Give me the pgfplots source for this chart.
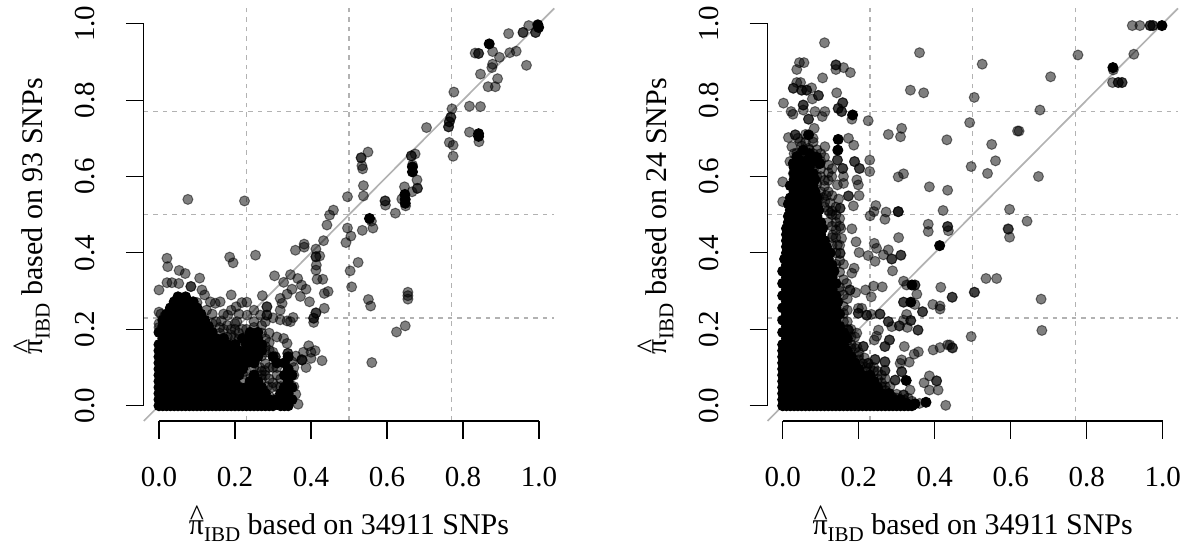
\documentclass[border=0pt]{standalone}
\usepackage{fontspec}
\usepackage{pgfplots}
\pgfplotsset{compat=1.18}
\setmainfont{Liberation Serif}
\newcommand\fs{\fontsize{29}{31}\selectfont}
\newcommand\lf{\fontsize{30}{32}\selectfont}
\newcommand\pih{\makebox[0pt][l]{\raisebox{.3em}{\hspace{.03em}\textasciicircum}}π\raisebox{-.22em}{\fontsize{21}{21}\selectfont IBD}}
\definecolor{gridc}{gray}{0.70}
\definecolor{diagc}{gray}{0.70}
\pgfplotsset{
  rplot/.style={
    scale only axis, width=410.4pt, height=412.6pt,
    xmin=-0.04, xmax=1.04, ymin=-0.04, ymax=1.04,
    clip=false,
    axis line style={draw=none},
    xtick={0,0.2,0.4,0.6,0.8,1}, ytick={0,0.2,0.4,0.6,0.8,1},
    xticklabels={0.0,0.2,0.4,0.6,0.8,1.0}, yticklabels={0.0,0.2,0.4,0.6,0.8,1.0},
    tick align=outside, major tick length=18pt,
    tick style={black,line width=1.1pt},
    xtick pos=bottom, ytick pos=left,
    tick label style={font=\fs},
    xticklabel style={yshift=-25pt},
    yticklabel style={rotate=90,anchor=south,yshift=27pt},
    /pgf/number format/assume math mode=true,
    every axis x label/.style={at={(axis description cs:0.5,0)},anchor=base,yshift=-114pt,font=\lf},
    every axis y label/.style={at={(axis description cs:0,0.5)},anchor=base,rotate=90,yshift=100.8pt,xshift=-1.5pt,font=\lf},
  },
  gl/.style={gridc,line width=1.5pt,dash pattern=on 4.5pt off 5pt,forget plot},
  al/.style={only marks,mark=*,mark size=5pt,forget plot,mark options={solid,fill=black,draw=black,fill opacity=0.5,draw opacity=0.5,line width=1pt}},
  co/.style={only marks,mark=*,mark size=5pt,forget plot,mark options={solid,fill=black,draw=black,fill opacity=1,draw opacity=1,line width=1pt}},
  dg/.style={diagc,line width=1.7pt,forget plot},
}
\begin{document}
\begin{tikzpicture}[x=1pt,y=1pt]
\path[use as bounding box] (0,0) rectangle (1186,548);
%----------------------------------------- left
\begin{axis}[rplot,at={(143.8pt,127pt)},anchor=south west,
  xlabel={\lf\pih{} based on 34911 SNPs},ylabel={\lf\pih{} based on 93 SNPs}]
\addplot[gl] coordinates {(0.23,-0.04)(0.23,1.04)};
\addplot[gl] coordinates {(0.5,-0.04)(0.5,1.04)};
\addplot[gl] coordinates {(0.77,-0.04)(0.77,1.04)};
\addplot[gl] coordinates {(-0.04,0.23)(1.04,0.23)};
\addplot[gl] coordinates {(-0.04,0.5)(1.04,0.5)};
\addplot[gl] coordinates {(-0.04,0.77)(1.04,0.77)};
% dense core
\addplot[co] coordinates {
(0,0)(.01,0)(.02,0)(.03,0)(.04,0)(.05,0)(.06,0)(.07,0)(.08,0)(.09,0)(.10,0)(.11,0)(.12,0)(.13,0)(.14,0)(.15,0)(.16,0)(.17,0)(.18,0)(.19,0)(.20,0)(.21,0)(.22,0)(.23,0)(.24,0)(.25,0)(.26,0)(.27,0)(.28,0)(.29,0)(.30,0)(.32,0)(.33,0)(.34,0)
(0,.016)(.01,.016)(.03,.016)(.05,.016)(.07,.016)(.09,.016)(.11,.016)(.13,.016)(.15,.016)(.17,.016)(.19,.016)(.21,.016)(.23,.016)(.25,.016)(.27,.016)(.29,.016)(.31,.016)(.33,.016)(.35,.016)
(0,.032)(.02,.032)(.04,.032)(.06,.032)(.08,.032)(.10,.032)(.12,.032)(.14,.032)(.16,.032)(.18,.032)(.20,.032)(.22,.032)(.24,.032)(.26,.032)(.28,.032)(.32,.032)(.34,.032)
(0,.048)(.01,.048)(.03,.048)(.05,.048)(.07,.048)(.09,.048)(.11,.048)(.13,.048)(.15,.048)(.17,.048)(.19,.048)(.21,.048)(.23,.048)(.25,.048)(.27,.048)(.33,.048)(.35,.048)
(0,.064)(.02,.064)(.04,.064)(.06,.064)(.08,.064)(.10,.064)(.12,.064)(.14,.064)(.16,.064)(.18,.064)(.20,.064)(.24,.064)(.26,.064)(.34,.064)
(0,.08)(.01,.08)(.03,.08)(.05,.08)(.07,.08)(.09,.08)(.11,.08)(.13,.08)(.15,.08)(.17,.08)(.19,.08)(.21,.08)(.25,.08)(.33,.08)(.35,.08)
(0,.096)(.02,.096)(.04,.096)(.06,.096)(.08,.096)(.10,.096)(.12,.096)(.14,.096)(.16,.096)(.18,.096)(.20,.096)(.22,.096)(.34,.096)
(0,.112)(.01,.112)(.03,.112)(.05,.112)(.07,.112)(.09,.112)(.11,.112)(.13,.112)(.15,.112)(.17,.112)(.19,.112)(.21,.112)(.23,.112)(.25,.112)(.31,.112)(.33,.112)
(0,.128)(.02,.128)(.04,.128)(.06,.128)(.08,.128)(.10,.128)(.12,.128)(.14,.128)(.16,.128)(.18,.128)(.20,.128)(.22,.128)(.24,.128)(.26,.128)(.30,.128)(.34,.128)
(0,.144)(.01,.144)(.03,.144)(.05,.144)(.07,.144)(.09,.144)(.11,.144)(.13,.144)(.15,.144)(.17,.144)(.19,.144)(.21,.144)(.23,.144)(.25,.144)(.27,.144)
(0,.16)(.02,.16)(.04,.16)(.06,.16)(.08,.16)(.10,.16)(.12,.16)(.14,.16)(.16,.16)(.18,.16)(.20,.16)(.23,.16)(.25,.16)(.27,.16)
(.01,.176)(.03,.176)(.05,.176)(.07,.176)(.09,.176)(.11,.176)(.13,.176)(.15,.176)(.17,.176)(.22,.176)(.24,.176)(.26,.176)
(0,.192)(.02,.192)(.04,.192)(.06,.192)(.08,.192)(.10,.192)(.12,.192)(.14,.192)(.24,.192)(.26,.192)
(.01,.208)(.03,.208)(.05,.208)(.07,.208)(.09,.208)(.11,.208)(.13,.208)
(.01,.224)(.02,.224)(.04,.224)(.06,.224)(.08,.224)(.10,.224)(.12,.224)
(.02,.24)(.03,.24)(.05,.24)(.07,.24)(.09,.24)(.11,.24)
(.03,.256)(.04,.256)(.06,.256)(.08,.256)(.10,.256)
(.04,.272)(.05,.272)(.07,.272)(.09,.272)
(.05,.285)(.07,.285)
(.997,.997)(.869,.947)(.841,.712)(.841,.705)(.667,.625)(.667,.612)(.647,.553)(.648,.540)(.648,.530)(.554,.490)(.999,.990)
};
% isolated points
\addplot[al] coordinates {
(.973,.995)(.920,.974)(.958,.977)(.958,.977)(.991,.977)(.991,.977)(.832,.923)(.841,.922)(.841,.922)(.878,.927)(.896,.912)(.923,.924)(.940,.928)(.967,.891)(.878,.894)(.876,.885)(.846,.868)(.891,.856)(.866,.835)(.885,.835)(.776,.821)(.771,.777)(.817,.784)(.846,.783)(.768,.755)(.768,.755)(.764,.743)(.764,.743)(.762,.730)(.762,.730)(.704,.728)(.817,.716)(.842,.691)(.764,.689)(.774,.682)(.774,.653)(.674,.659)(.664,.654)(.664,.654)(.667,.630)(.679,.591)(.680,.569)(.680,.569)(.666,.560)(.646,.573)(.639,.541)(.649,.523)(.595,.536)(.595,.536)(.596,.525)(.622,.504)(.559,.483)(.563,.465)(.535,.459)(.550,.664)(.532,.649)(.532,.649)(.534,.628)(.536,.620)(.538,.576)(.538,.549)(.496,.547)(.459,.512)(.449,.499)(.442,.473)(.496,.465)(.505,.444)(.492,.427)(.433,.432)(.382,.423)(.382,.415)(.413,.410)(.413,.390)(.413,.390)(.423,.392)(.414,.368)(.413,.355)(.524,.375)(.503,.353)(.416,.331)(.431,.331)
(.076,.540)(.225,.536)(.359,.407)(.254,.394)(.186,.389)(.195,.374)(.021,.386)(.023,.364)(.053,.354)(.069,.346)(.107,.334)(.304,.340)(.346,.343)(.365,.333)(.328,.323)(.375,.316)(.387,.305)(.350,.305)(.337,.292)(.445,.299)(.435,.294)(.507,.311)(.551,.278)(.557,.261)(.655,.297)(.655,.288)(.655,.279)(.625,.193)(.648,.209)(.560,.113)(.372,.286)(.396,.272)(.435,.255)(.413,.243)(.413,.243)(.407,.229)(.407,.229)(.407,.218)(.353,.231)(.346,.220)(.337,.222)(.319,.225)(.319,.281)(.324,.268)(.319,.250)(.284,.259)(.284,.259)(.284,.237)(.284,.237)(.272,.288)(.190,.290)(0,.303)(.021,.322)(.034,.322)(.052,.320)(.084,.312)(.084,.312)(.113,.303)(.135,.272)(.148,.268)(.161,.272)(.203,.259)(.218,.270)(.231,.271)(.181,.237)(.164,.222)(.205,.220)(.232,.237)(.267,.237)(.12,.29)(.10,.27)(.125,.25)(.14,.24)(.15,.22)(.17,.24)(.19,.25)(.21,.24)(.25,.25)(.27,.21)(.25,.22)(.30,.23)(.28,.22)
(.429,.118)(.387,.100)(.394,.157)(.411,.144)(.400,.124)(.376,.120)(.376,.120)(.376,.120)(.328,.176)(.337,.163)(.306,.128)(.306,.128)(.339,.137)(.339,.137)(.278,.092)(.297,.048)(.366,.004)(.38,.14)(.36,.13)(.35,.115)(.40,.14)(.29,.165)(.31,.18)(.29,.19)(.27,.155)(.30,.10)(.31,.08)(.29,.07)(.275,.04)(.29,.025)(.27,.13)(.28,.11)(.25,.10)(.22,.13)(.20,.175)(.21,.16)(.19,.185)(.17,.20)(.16,.205)(.14,.215)(.24,.07)(.25,.08)(.27,.08)(.29,.01)(.31,.02)(.31,.005)(.32,.05)(.32,.07)(.36,.03)(.355,.05)(.355,.08)(.355,.10)(0,.205)(0,.215)(.005,.24)(.015,.235)(0,.245)(.18,.145)(.22,.11)(.225,.09)(.25,.135)(.28,.14)
(.20,.20)(.21,.19)(.19,.20)(.22,.20)(.23,.20)(.25,.205)(.27,.19)(.28,.175)(.28,.155)(.20,.215)(.18,.21)(.16,.19)(.18,.18)(.21,.175)(.265,.10)(.27,.07)(.285,.05)(.29,.10)(.31,.05)(.30,.06)(.31,.10)(.30,.14)(.29,.145)(.22,.06)(.21,.05)(.22,.085)(.28,.08)(.27,.09)
};
\addplot[dg] coordinates {(-0.04,-0.04)(1.04,1.04)};
\draw[black,line width=1.1pt] (axis cs:0,-0.04) -- (axis cs:1,-0.04);
\draw[black,line width=1.1pt] (axis cs:-0.04,0) -- (axis cs:-0.04,1);
\end{axis}
%----------------------------------------- right
\begin{axis}[rplot,at={(767.5pt,127pt)},anchor=south west,
  xlabel={\lf\pih{} based on 34911 SNPs},ylabel={\lf\pih{} based on 24 SNPs}]
\addplot[gl] coordinates {(0.23,-0.04)(0.23,1.04)};
\addplot[gl] coordinates {(0.5,-0.04)(0.5,1.04)};
\addplot[gl] coordinates {(0.77,-0.04)(0.77,1.04)};
\addplot[gl] coordinates {(-0.04,0.23)(1.04,0.23)};
\addplot[gl] coordinates {(-0.04,0.5)(1.04,0.5)};
\addplot[gl] coordinates {(-0.04,0.77)(1.04,0.77)};
\addplot[co] coordinates {
(0,0)(.01,0)(.02,0)(.03,0)(.04,0)(.05,0)(.06,0)(.07,0)(.08,0)(.09,0)(.10,0)(.11,0)(.12,0)(.13,0)(.14,0)(.15,0)(.16,0)(.17,0)(.18,0)(.19,0)(.20,0)(.21,0)(.22,0)(.23,0)(.24,0)(.25,0)(.26,0)(.27,0)(.28,0)(.29,0)(.30,0)(.31,0)(.32,0)(.33,0)(.34,0)
(0,.016)(.01,.016)(.03,.016)(.05,.016)(.07,.016)(.09,.016)(.11,.016)(.13,.016)(.15,.016)(.17,.016)(.19,.016)(.21,.016)(.23,.016)(.25,.016)(.27,.016)(.29,.016)(.31,.016)
(0,.032)(.02,.032)(.04,.032)(.06,.032)(.08,.032)(.10,.032)(.12,.032)(.14,.032)(.16,.032)(.18,.032)(.20,.032)(.22,.032)(.24,.032)(.26,.032)(.28,.032)
(0,.048)(.01,.048)(.03,.048)(.05,.048)(.07,.048)(.09,.048)(.11,.048)(.13,.048)(.15,.048)(.17,.048)(.19,.048)(.21,.048)(.23,.048)(.25,.048)
(0,.064)(.02,.064)(.04,.064)(.06,.064)(.08,.064)(.10,.064)(.12,.064)(.14,.064)(.16,.064)(.18,.064)(.20,.064)(.22,.064)(.24,.064)
(0,.08)(.01,.08)(.03,.08)(.05,.08)(.07,.08)(.09,.08)(.11,.08)(.13,.08)(.15,.08)(.17,.08)(.19,.08)(.21,.08)(.23,.08)
(0,.096)(.02,.096)(.04,.096)(.06,.096)(.08,.096)(.10,.096)(.12,.096)(.14,.096)(.16,.096)(.18,.096)(.20,.096)
(0,.112)(.01,.112)(.03,.112)(.05,.112)(.07,.112)(.09,.112)(.11,.112)(.13,.112)(.15,.112)(.17,.112)(.19,.112)
(0,.128)(.02,.128)(.04,.128)(.06,.128)(.08,.128)(.10,.128)(.12,.128)(.14,.128)(.16,.128)(.18,.128)
(0,.144)(.01,.144)(.03,.144)(.05,.144)(.07,.144)(.09,.144)(.11,.144)(.13,.144)(.15,.144)(.17,.144)
(0,.16)(.02,.16)(.04,.16)(.06,.16)(.08,.16)(.10,.16)(.12,.16)(.14,.16)(.16,.16)
(.01,.176)(.03,.176)(.05,.176)(.07,.176)(.09,.176)(.11,.176)(.13,.176)(.15,.176)(.17,.176)
(0,.192)(.02,.192)(.04,.192)(.06,.192)(.08,.192)(.10,.192)(.12,.192)(.14,.192)(.16,.192)
(.01,.208)(.03,.208)(.05,.208)(.07,.208)(.09,.208)(.11,.208)(.13,.208)(.15,.208)
(0,.224)(.02,.224)(.04,.224)(.06,.224)(.08,.224)(.10,.224)(.12,.224)(.14,.224)
(.01,.24)(.03,.24)(.05,.24)(.07,.24)(.09,.24)(.11,.24)(.13,.24)(.15,.24)
(0,.256)(.02,.256)(.04,.256)(.06,.256)(.08,.256)(.10,.256)(.12,.256)(.14,.256)
(.01,.272)(.03,.272)(.05,.272)(.07,.272)(.09,.272)(.11,.272)(.13,.272)(.145,.272)
(0,.288)(.02,.288)(.04,.288)(.06,.288)(.08,.288)(.10,.288)(.12,.288)(.14,.288)
(.01,.304)(.03,.304)(.05,.304)(.07,.304)(.09,.304)(.11,.304)(.13,.304)
(0,.32)(.02,.32)(.04,.32)(.06,.32)(.08,.32)(.10,.32)(.12,.32)(.14,.32)
(.01,.336)(.03,.336)(.05,.336)(.07,.336)(.09,.336)(.11,.336)(.13,.336)
(0,.352)(.02,.352)(.04,.352)(.06,.352)(.08,.352)(.10,.352)(.12,.352)(.135,.352)
(.01,.368)(.03,.368)(.05,.368)(.07,.368)(.09,.368)(.11,.368)(.13,.368)
(.005,.384)(.02,.384)(.04,.384)(.06,.384)(.08,.384)(.10,.384)(.12,.384)
(.01,.40)(.03,.40)(.05,.40)(.07,.40)(.09,.40)(.11,.40)(.125,.40)
(.01,.416)(.02,.416)(.04,.416)(.06,.416)(.08,.416)(.10,.416)(.115,.416)
(.01,.432)(.03,.432)(.05,.432)(.07,.432)(.09,.432)(.11,.432)
(.01,.448)(.02,.448)(.04,.448)(.06,.448)(.08,.448)(.10,.448)
(.01,.464)(.03,.464)(.05,.464)(.07,.464)(.09,.464)(.105,.464)
(.015,.48)(.02,.48)(.04,.48)(.06,.48)(.08,.48)(.10,.48)
(.015,.496)(.03,.496)(.05,.496)(.07,.496)(.09,.496)
(.02,.512)(.04,.512)(.06,.512)(.08,.512)(.095,.512)
(.015,.528)(.03,.528)(.05,.528)(.07,.528)(.09,.528)
(.02,.544)(.04,.544)(.06,.544)(.08,.544)(.09,.544)
(.03,.56)(.05,.56)(.07,.56)(.085,.56)
(.02,.576)(.04,.576)(.06,.576)(.08,.576)
(.03,.592)(.05,.592)(.07,.592)(.085,.592)
(.03,.608)(.04,.608)(.06,.608)(.08,.608)
(.05,.624)(.07,.624)(.03,.624)
(.06,.64)(.08,.64)
(.146,.697)(.145,.669)(.184,.761)(.869,.885)(.998,.995)(.413,.419)(.068,.709)(.340,.316)(.337,.271)(.377,.009)(.326,.006)(.348,.005)(.325,.066)
(.054,.669)(.037,.652)(.081,.652)(.063,.634)(.028,.634)(.046,.617)(.098,.634)(.07,.66)(.05,.64)(.09,.65)
};
\addplot[al] coordinates {
(.110,.950)(.044,.898)(.056,.898)(.037,.880)(.140,.892)(.140,.892)(.140,.880)(.160,.885)(.178,.872)(.105,.858)(.037,.846)(.047,.846)(.028,.831)(.028,.831)(.050,.826)(.050,.826)(.063,.826)(.063,.826)(.076,.832)(.078,.803)(.094,.812)(.094,.812)(.142,.819)(.002,.792)(.054,.787)(.054,.787)(.054,.774)(.022,.770)(.027,.763)(.085,.770)(.111,.770)(.104,.757)(.158,.793)(.158,.793)(.146,.778)(.146,.778)(.155,.770)(.155,.770)(.182,.750)(.068,.750)(.068,.750)(.083,.726)(.225,.746)(.278,.710)(.313,.726)(.310,.704)(.432,.696)(.492,.741)(.504,.807)(.525,.894)(.360,.924)(.336,.826)(.371,.819)(.550,.684)(.560,.641)(.539,.608)(.496,.626)(.618,.719)(.229,.643)(.229,.613)(.304,.599)(.318,.607)(.386,.573)(.434,.564)(.422,.511)(.597,.514)(.245,.524)(.240,.508)(.230,.497)(.272,.507)(.269,.488)(.304,.508)(.304,.508)(.304,.508)
(.144,.643)(.144,.643)(.158,.621)(.158,.621)(.189,.639)(.189,.639)(.202,.621)(.202,.621)(.173,.700)(.187,.682)(.015,.702)(.033,.709)(.033,.709)(.046,.691)(.024,.678)(.037,.661)(.019,.639)(.068,.674)(.081,.643)(.094,.634)(.094,.634)(.111,.678)(.046,.641)(.028,.608)(.054,.608)(.081,.617)(.129,.600)(.160,.600)(.160,.582)(.195,.591)(.199,.578)(0,.586)(0,.534)(.120,.560)(.144,.578)(.173,.549)(.173,.549)(.201,.550)(.147,.541)(.111,.534)(.151,.517)(.151,.517)(.186,.523)(.125,.504)(.06,.69)(.08,.69)(.10,.66)(.05,.665)(.06,.65)(.03,.63)(.07,.63)(.09,.60)(.10,.62)(.11,.59)(.12,.61)(.10,.56)(.11,.52)(.13,.55)(.14,.52)(.12,.48)(.13,.50)(.14,.48)
(.04,.70)(.06,.71)(.08,.70)(.05,.68)(.07,.67)(.09,.67)(.04,.65)(.06,.63)(.08,.66)(.03,.66)(.10,.64)(.11,.65)(.12,.63)(.13,.62)(.09,.58)(.10,.60)(.11,.575)(.12,.59)(.095,.545)(.105,.545)(.115,.55)(.125,.53)(.13,.51)(.12,.51)(.14,.50)(.15,.49)(.13,.47)(.14,.46)(.15,.47)(.13,.44)(.14,.44)(.15,.42)(.13,.42)(.14,.40)(.15,.38)(.16,.37)(.14,.37)(.15,.35)(.16,.33)(.15,.31)(.16,.29)(.15,.30)(.17,.28)(.16,.26)(.17,.25)(.16,.22)(.17,.22)(.18,.20)(.19,.18)(.17,.20)(.18,.18)(.18,.16)(.19,.15)(.18,.13)(.20,.14)(.20,.12)(.21,.11)(.22,.10)(.23,.10)(.24,.10)(.25,.09)(.22,.09)(.26,.08)(.27,.07)(.26,.05)(.27,.04)(.28,.03)(.29,.02)(.30,.02)(.32,.015)(.34,.012)(.36,.006)
(.383,.475)(.383,.456)(.434,.469)(.434,.469)(.436,.458)(.593,.463)(.597,.441)(.305,.440)(.193,.429)(.241,.425)(.247,.412)(.278,.408)(.201,.401)(.225,.393)(.243,.378)(.265,.395)(.287,.384)(.287,.384)(.311,.394)(.311,.394)(.289,.353)(.188,.360)(.182,.347)(.155,.438)(.153,.464)(.182,.463)(.132,.447)(.144,.421)(.151,.399)(.151,.399)(.318,.326)(.326,.316)(.348,.316)(.348,.316)(.353,.292)(.416,.310)(.446,.284)(.446,.284)(.505,.297)(.535,.333)(.563,.333)(.496,.181)(.239,.313)(.262,.311)(.218,.303)(.233,.285)(.192,.296)(.318,.271)(.318,.271)(.348,.265)(.395,.265)(.414,.261)(.414,.253)(.368,.246)(.368,.246)(.199,.255)(.208,.255)(.199,.242)(.199,.242)(.221,.237)(.221,.237)(.233,.239)(.256,.240)(.256,.240)
(.326,.239)(.318,.224)(.337,.223)(.337,.223)(.307,.209)(.307,.209)(.278,.220)(.278,.220)(.287,.207)(.328,.205)(.356,.198)(.356,.198)(.252,.198)(.247,.182)(.281,.172)(.281,.172)(.269,.155)(.269,.155)(.241,.172)(.212,.155)(.212,.155)(.195,.155)(.320,.155)(.357,.141)(.346,.135)(.396,.146)(.414,.152)(.434,.159)(.446,.152)(.313,.120)(.333,.114)(.309,.111)(.243,.121)(.243,.121)(.225,.111)(.225,.111)(.269,.115)(.269,.115)(.204,.102)(.313,.089)(.313,.089)(.269,.092)(.269,.092)(.296,.067)(.296,.067)(.335,.041)(.318,.028)(.318,.028)(.386,.078)(.372,.060)(.405,.065)(.405,.065)(.386,.041)(.409,.041)(.429,.001)(.186,.120)(.230,.076)(.230,.076)(.282,.050)(.256,.032)(.256,.032)(.287,.024)(.195,.190)(.173,.198)(.173,.198)(.160,.242)(.177,.303)(.177,.303)(.168,.320)(.17,.17)(.18,.15)(.20,.13)(.215,.125)(.24,.09)(.25,.07)(.27,.05)(.30,.03)(.33,.02)(.26,.06)
(.920,.995)(.940,.995)(.967,.995)(.967,.995)(.974,.995)(.974,.995)(.924,.920)(.777,.918)(.870,.879)(.868,.846)(.883,.846)(.883,.846)(.893,.846)(.893,.846)(.705,.861)(.677,.774)(.622,.719)(.673,.600)(.643,.483)(.594,.462)(.504,.297)(.680,.279)(.682,.197)(.447,.151)(.440,.159)
};
\addplot[dg] coordinates {(-0.04,-0.04)(1.04,1.04)};
\draw[black,line width=1.1pt] (axis cs:0,-0.04) -- (axis cs:1,-0.04);
\draw[black,line width=1.1pt] (axis cs:-0.04,0) -- (axis cs:-0.04,1);
\end{axis}
\end{tikzpicture}
\end{document}
